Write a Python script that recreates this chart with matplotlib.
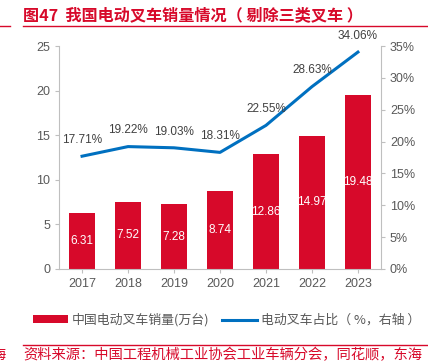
import matplotlib
matplotlib.use("Agg")
import matplotlib.pyplot as plt
from matplotlib.lines import Line2D
from matplotlib.patches import Patch

plt.rcParams['font.family'] = ['Liberation Sans', 'Noto Sans CJK SC', 'DejaVu Sans']

years = ['2017', '2018', '2019', '2020', '2021', '2022', '2023']
sales = [6.31, 7.52, 7.28, 8.74, 12.86, 14.97, 19.48]
share = [17.71, 19.22, 19.03, 18.31, 22.55, 28.63, 34.06]
left_ticks = [0, 5, 10, 15, 20, 25]
right_ticks = [0, 5, 10, 15, 20, 25, 30, 35]

RED = '#D7092A'
BLUE = '#0070C0'
GRAY = '#595959'
SPINE = '#BFBFBF'

fig = plt.figure(figsize=(4.28, 3.63), dpi=100)
ax = fig.add_axes([0.138, 0.259, 0.752, 0.614])
x = list(range(len(years)))
bars = ax.bar(x, sales, width=0.56, color=RED, zorder=2)
for xi, v in zip(x, sales):
    ax.text(xi, v / 2, f'{v:.2f}', ha='center', va='center', color='white', fontsize=8.5)
ax.set_ylim(0, 25)
ax.set_xlim(-0.5, len(years) - 0.5)
ax.set_yticks(left_ticks)
ax.set_xticks(x)
ax.set_xticklabels(years)
ax.tick_params(axis='both', colors=SPINE, labelcolor=GRAY, labelsize=9, length=3)
for s in ['top', 'right']:
    ax.spines[s].set_visible(False)
for s in ['left', 'bottom']:
    ax.spines[s].set_color(SPINE)

ax2 = ax.twinx()
ax2.plot(x, share, color=BLUE, linewidth=2.2, zorder=3)
for xi, v in zip(x, share):
    ax2.text(xi, v + 1.6, f'{v:.2f}%', ha='center', va='bottom', color='#404040', fontsize=8.5)
ax2.set_ylim(0, 35)
ax2.set_yticks(right_ticks)
ax2.set_yticklabels([f'{t}%' for t in right_ticks])
ax2.tick_params(axis='y', colors=SPINE, labelcolor=GRAY, labelsize=9, length=3)
for s in ['top', 'left', 'bottom']:
    ax2.spines[s].set_visible(False)
ax2.spines['right'].set_color(SPINE)

cjk = ['Noto Sans CJK SC', 'DejaVu Sans']

# title
fig.text(23 / 428, 1 - 15 / 363, '图47  我国电动叉车销量情况（ 剔除三类叉车 ）', color=RED,
         fontsize=11.6, fontweight='bold', va='center', ha='left', family=cjk)
fig.add_artist(Line2D([23 / 428, 1], [1 - 26 / 363] * 2, color=RED, linewidth=1))
fig.add_artist(Line2D([0, 10 / 428], [1 - 26 / 363] * 2, color=RED, linewidth=1))

# legend
handles = [Patch(facecolor=RED, edgecolor='none'), Line2D([], [], color=BLUE, linewidth=2.2)]
labels = ['中国电动叉车销量(万台)', '电动叉车占比（ %，右轴 ）']
fig.legend(handles, labels, loc='center', bbox_to_anchor=(0.53, 1 - 320 / 363), ncol=2,
           frameon=False, handlelength=2.7, handleheight=0.5, columnspacing=1.0,
           handletextpad=0.3, labelcolor=GRAY,
           prop={'family': cjk, 'size': 9.3})

# source
fig.add_artist(Line2D([23 / 428, 1], [1 - 345 / 363] * 2, color=RED, linewidth=1))
fig.text(23 / 428, 1 - 355 / 363, '资料来源：中国工程机械工业协会工业车辆分会，同花顺，东海', color=RED,
         fontsize=10.3, va='center', ha='left', family=cjk)
fig.text(6 / 428, 1 - 355 / 363, '海', color=RED, fontsize=10.3, va='center', ha='right',
         family=cjk)

fig.savefig('out.png', dpi=100)
